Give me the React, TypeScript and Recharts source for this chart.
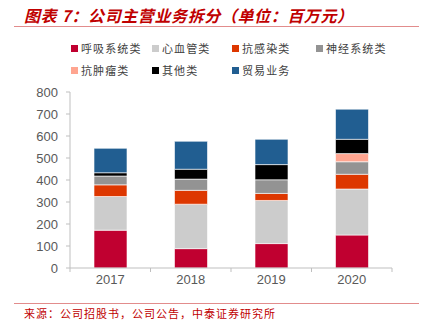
import { BarChart, Bar, XAxis, YAxis, Legend } from 'recharts';

const years = ['2017', '2018', '2019', '2020'];
const respiratory = [172, 88, 111, 150];
const cardio = [153, 202, 196, 209];
const antiInfection = [53, 63, 32, 67];
const neuro = [40, 51, 62, 57];
const antiTumor = [0, 0, 0, 37];
const others = [15, 45, 69, 65];
const trade = [111, 127, 115, 137];
const yTicks = [0, 100, 200, 300, 400, 500, 600, 700, 800];

const series = [
  { key: 'respiratory', name: '呼吸系统类', values: respiratory, color: '#C00030' },
  { key: 'cardio', name: '心血管类', values: cardio, color: '#CCCCCC' },
  { key: 'antiInfection', name: '抗感染类', values: antiInfection, color: '#DD3700' },
  { key: 'neuro', name: '神经系统类', values: neuro, color: '#939393' },
  { key: 'antiTumor', name: '抗肿瘤类', values: antiTumor, color: '#FFA590' },
  { key: 'others', name: '其他类', values: others, color: '#000000' },
  { key: 'trade', name: '贸易业务', values: trade, color: '#215E91' },
];

const data = years.map((y, i) => {
  const row: Record<string, string | number> = { year: y };
  series.forEach(s => { row[s.key] = s.values[i]; });
  return row;
});

const W = 425;
const H = 322;
const legendH = 44;
// legend height gets added to top offset by recharts
const margin = { top: 92 - legendH, right: 33, left: 10, bottom: 24 };
const yAxisW = 60;
const bandHalf = (W - margin.left - margin.right - yAxisW) / years.length / 2;
const axisColor = '#BFBFBF';
const cjk = '"Noto Sans CJK SC", sans-serif';

function XTick(props: any) {
  const { x, y, payload, index } = props;
  const off = payload?.offset ?? bandHalf;
  const top = y - 8;
  return (
    <g>
      <line x1={x - off} x2={x - off} y1={top} y2={top + 4} stroke={axisColor} />
      {index === years.length - 1 && (
        <line x1={x + off} x2={x + off} y1={top} y2={top + 4} stroke={axisColor} />
      )}
      <text x={x} y={y + 8} textAnchor="middle" fill="#595959" fontSize={13} fontFamily="Liberation Sans, Arial, sans-serif">
        {payload.value}
      </text>
    </g>
  );
}

function LegendBox() {
  const cols = [71, 152, 232, 316];
  return (
    <div style={{ position: 'relative', width: W, height: legendH }}>
      {series.map((s, i) => {
        const row = i < 4 ? 0 : 1;
        const col = i < 4 ? i : i - 4;
        return (
          <div key={s.key} style={{ position: 'absolute', left: cols[col], top: row * 22, display: 'flex', alignItems: 'center', height: 16 }}>
            <span style={{ width: 7, height: 7, background: s.color, display: 'inline-block', marginRight: 3 }} />
            <span style={{ fontFamily: cjk, fontSize: 11, letterSpacing: 1.1, color: '#404040' }}>{s.name}</span>
          </div>
        );
      })}
    </div>
  );
}

export default function App() {
  return (
    <div style={{ position: 'absolute', left: 0, top: 0, width: W, height: H, background: '#fff', overflow: 'hidden' }}>
      <div style={{ position: 'absolute', left: 24, top: 3, fontFamily: cjk, fontSize: 16, fontWeight: 700, fontStyle: 'italic', color: '#C00000', letterSpacing: 0.6, whiteSpace: 'nowrap' }}>
        图表 7：公司主营业务拆分（单位：百万元）
      </div>
      <div style={{ position: 'absolute', left: 14, top: 26, width: 405, height: 1, background: '#E28C8C' }} />
      <BarChart width={W} height={H} data={data} margin={margin} barSize={33}>
        <XAxis
          dataKey="year"
          stroke={axisColor}
          tickLine={false}
          tick={<XTick />}
          height={30}
          interval={0}
        />
        <YAxis
          width={yAxisW}
          domain={[0, 800]}
          ticks={yTicks}
          interval={0}
          stroke={axisColor}
          tickSize={4}
          tickMargin={8}
          tick={{ fill: '#595959', fontSize: 13, fontFamily: 'Liberation Sans, Arial, sans-serif' }}
          allowDataOverflow
        />
        <Legend
          verticalAlign="top"
          align="left"
          height={legendH}
          content={() => <LegendBox />}
          wrapperStyle={{ position: 'absolute', left: 0, top: 40, width: W }}
        />
        {series.map(s => (
          <Bar key={s.key} dataKey={s.key} name={s.name} stackId="a" fill={s.color} stroke="#ffffff" strokeWidth={0.6} isAnimationActive={false} />
        ))}
      </BarChart>
      <div style={{ position: 'absolute', left: 14, top: 303, width: 405, height: 1, background: '#E28C8C' }} />
      <div style={{ position: 'absolute', left: 24, top: 305, fontFamily: cjk, fontSize: 11, color: '#C00000', letterSpacing: 1, whiteSpace: 'nowrap' }}>
        来源：公司招股书，公司公告，中泰证券研究所
      </div>
    </div>
  );
}
